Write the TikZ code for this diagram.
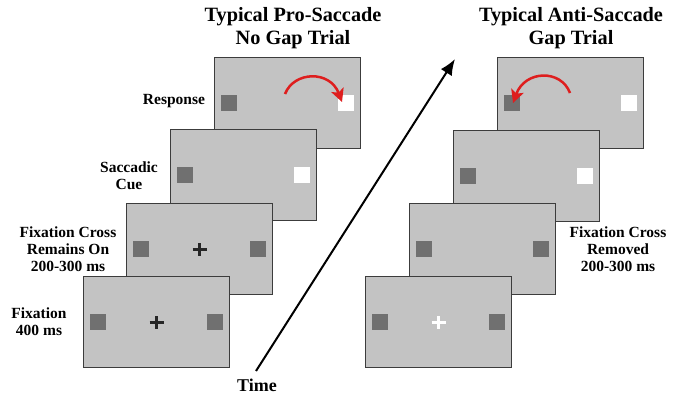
\documentclass[tikz,border=0pt]{standalone}
\usepackage{fontspec}
\setmainfont{Liberation Serif}
\usetikzlibrary{arrows.meta}
\definecolor{panelfill}{RGB}{195,195,195}
\definecolor{panelborder}{RGB}{60,60,60}
\definecolor{sqgray}{RGB}{112,112,112}
\definecolor{arrred}{RGB}{222,30,30}
\begin{document}
\begin{tikzpicture}[x=1pt,y=-1pt,
 panel/.style={draw=panelborder, line width=1.3pt, fill=panelfill, minimum width=146pt, minimum height=91pt, inner sep=0pt, anchor=north west},
 dsq/.style={fill=sqgray, minimum size=16pt, inner sep=0pt},
 wsq/.style={fill=white, minimum size=16pt, inner sep=0pt},
 lbl/.style={font=\bfseries\fontsize{15.5}{17}\selectfont, align=center, inner sep=0pt},
 ttl/.style={font=\bfseries\fontsize{20.3}{22.5}\selectfont, align=center, inner sep=0pt},
 timelbl/.style={font=\bfseries\fontsize{18}{20}\selectfont, inner sep=0pt},
 redarr/.style={draw=arrred, line width=2.5pt, -{Stealth[length=13pt,width=13pt,inset=3pt]}},
 timearr/.style={draw=black, line width=2pt, -{Latex[length=16pt,width=13pt]}},
 crossblk/.style={draw=black!85, line width=3pt},
 crosswht/.style={draw=white, line width=3pt}
]
\useasboundingbox (0,0) rectangle (679,397);

% titles
\node[ttl] (tl) at (293,28) {Typical Pro-Saccade\\No Gap Trial};
\node[ttl] (tr) at (571,28) {Typical Anti-Saccade\\Gap Trial};

% time arrow
\coordinate (t0) at (256,371);
\coordinate (t1) at (455,59);
\draw[timearr] (t0) -- (t1);
\node[timelbl] (time) at (257,385) {Time};

% ---- left column (pro-saccade) ----
\node[panel] (L4) at (214,57) {};
\node[dsq] (L4a) at ([xshift=15pt]L4.west) {};
\node[wsq] (L4b) at ([xshift=-15pt]L4.east) {};
\coordinate (la0) at (285,94);
\coordinate (la1) at (342,102);
\draw[redarr] (la0) .. controls (294,71) and (330,70) .. (la1);

\node[panel] (L3) at (170,129) {};
\node[dsq] (L3a) at ([xshift=15pt]L3.west) {};
\node[wsq] (L3b) at ([xshift=-15pt]L3.east) {};

\node[panel] (L2) at (126,203) {};
\node[dsq] (L2a) at ([xshift=15pt]L2.west) {};
\node[dsq] (L2b) at ([xshift=-15pt]L2.east) {};
\draw[crossblk] ([xshift=-7pt]L2.center) -- ([xshift=7pt]L2.center);
\draw[crossblk] ([yshift=-6.5pt]L2.center) -- ([yshift=6.5pt]L2.center);

\node[panel] (L1) at (83,276) {};
\node[dsq] (L1a) at ([xshift=15pt]L1.west) {};
\node[dsq] (L1b) at ([xshift=-15pt]L1.east) {};
\draw[crossblk] ([xshift=-7pt]L1.center) -- ([xshift=7pt]L1.center);
\draw[crossblk] ([yshift=-6.5pt]L1.center) -- ([yshift=6.5pt]L1.center);

% left labels
\node[lbl] (lr) at (174,101) {Response};
\node[lbl] (lc) at (129,176) {Saccadic\\Cue};
\node[lbl] (lf2) at (68,249) {Fixation Cross\\Remains On\\200-300 ms};
\node[lbl] (lf1) at (39,322) {Fixation\\400 ms};

% ---- right column (anti-saccade) ----
\node[panel] (R4) at (497,57) {};
\node[dsq] (R4a) at ([xshift=15pt]R4.west) {};
\node[wsq] (R4b) at ([xshift=-15pt]R4.east) {};
\coordinate (ra0) at (570,93);
\coordinate (ra1) at (513,103);
\draw[redarr] (ra0) .. controls (561,69) and (525,70) .. (ra1);

\node[panel] (R3) at (453,130) {};
\node[dsq] (R3a) at ([xshift=15pt]R3.west) {};
\node[wsq] (R3b) at ([xshift=-15pt]R3.east) {};

\node[panel] (R2) at (409,203) {};
\node[dsq] (R2a) at ([xshift=15pt]R2.west) {};
\node[dsq] (R2b) at ([xshift=-15pt]R2.east) {};

\node[panel] (R1) at (365,276) {};
\node[dsq] (R1a) at ([xshift=15pt]R1.west) {};
\node[dsq] (R1b) at ([xshift=-15pt]R1.east) {};
\draw[crosswht] ([xshift=-7pt]R1.center) -- ([xshift=7pt]R1.center);
\draw[crosswht] ([yshift=-6.5pt]R1.center) -- ([yshift=6.5pt]R1.center);

\node[lbl] (rf2) at (618,249) {Fixation Cross\\Removed\\200-300 ms};
\end{tikzpicture}
\end{document}
